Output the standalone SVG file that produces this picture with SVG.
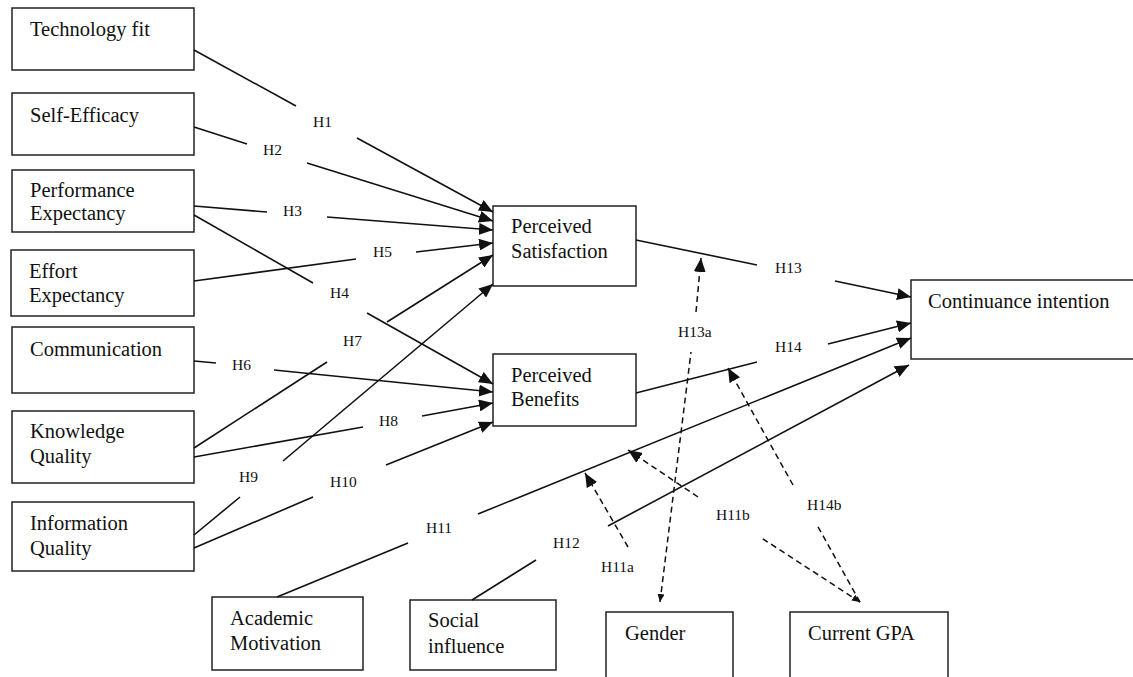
<svg xmlns="http://www.w3.org/2000/svg" width="1133" height="677" viewBox="0 0 1133 677">
<defs>
<style>
.box{fill:#fff;stroke:#222;stroke-width:1.5}
.t{font-family:"Liberation Serif","Times New Roman",serif;font-size:20.5px;fill:#111}
.lb{font-family:"Liberation Serif","Times New Roman",serif;font-size:15.5px;fill:#111}
.ln{fill:none;stroke:#111;stroke-width:1.6}
.dl{fill:none;stroke:#111;stroke-width:1.5;stroke-dasharray:6 4}
</style>
<marker id="ah" markerUnits="userSpaceOnUse" markerWidth="14" markerHeight="12" refX="14" refY="6" orient="auto">
<path d="M0,0 L14,6 L0,12 z" fill="#111"/>
</marker>
<marker id="ahs" markerUnits="userSpaceOnUse" markerWidth="8" markerHeight="7" refX="8" refY="3.5" orient="auto-start-reverse">
<path d="M0,0 L8,3.5 L0,7 z" fill="#111"/>
</marker>
</defs>
<rect width="1133" height="677" fill="#fff"/>

<g id="technology-fit"><rect class="box" x="12" y="8" width="182" height="62"/><text class="t" x="30" y="36">Technology fit</text></g>
<g id="self-efficacy"><rect class="box" x="12" y="93" width="182" height="62"/><text class="t" x="30" y="122">Self-Efficacy</text></g>
<g id="performance-expectancy"><rect class="box" x="12" y="170" width="182" height="62"/><text class="t" x="30" y="197">Performance</text><text class="t" x="30" y="220">Expectancy</text></g>
<g id="effort-expectancy"><rect class="box" x="11" y="250" width="183" height="66"/><text class="t" x="29" y="278">Effort</text><text class="t" x="29" y="302">Expectancy</text></g>
<g id="communication"><rect class="box" x="12" y="327" width="182" height="66"/><text class="t" x="30" y="356">Communication</text></g>
<g id="knowledge-quality"><rect class="box" x="12" y="411" width="182" height="72"/><text class="t" x="30" y="438">Knowledge</text><text class="t" x="30" y="463">Quality</text></g>
<g id="information-quality"><rect class="box" x="12" y="502" width="182" height="69"/><text class="t" x="30" y="530">Information</text><text class="t" x="30" y="555">Quality</text></g>
<g id="academic-motivation"><rect class="box" x="212" y="597" width="151" height="73"/><text class="t" x="230" y="625">Academic</text><text class="t" x="230" y="650">Motivation</text></g>
<g id="social-influence"><rect class="box" x="410" y="600" width="146" height="70"/><text class="t" x="428" y="627">Social</text><text class="t" x="428" y="653">influence</text></g>
<g id="gender"><rect class="box" x="606" y="612" width="127" height="70"/><text class="t" x="625" y="640">Gender</text></g>
<g id="current-gpa"><rect class="box" x="790" y="612" width="158" height="70"/><text class="t" x="808" y="640">Current GPA</text></g>
<g id="perceived-satisfaction"><rect class="box" x="493" y="206" width="143" height="80"/><text class="t" x="511" y="233">Perceived</text><text class="t" x="511" y="258">Satisfaction</text></g>
<g id="perceived-benefits"><rect class="box" x="493" y="354" width="143" height="72"/><text class="t" x="511" y="382">Perceived</text><text class="t" x="511" y="406">Benefits</text></g>
<g id="continuance-intention"><rect class="box" x="911" y="280" width="224" height="79"/><text class="t" x="928" y="308">Continuance intention</text></g>

<g id="connectors">
<line class="ln" x1="194" y1="50" x2="296" y2="106"/><line class="ln" x1="357" y1="138" x2="493" y2="212" marker-end="url(#ah)"/>
<text class="lb" x="313" y="127">H1</text>
<line class="ln" x1="194" y1="127" x2="247" y2="144"/><line class="ln" x1="307" y1="163" x2="493" y2="221" marker-end="url(#ah)"/>
<text class="lb" x="263" y="155">H2</text>
<line class="ln" x1="194" y1="206" x2="267" y2="212"/><line class="ln" x1="327" y1="217" x2="493" y2="230" marker-end="url(#ah)"/>
<text class="lb" x="283" y="216">H3</text>
<line class="ln" x1="194" y1="215" x2="313" y2="283"/><line class="ln" x1="367" y1="313" x2="493" y2="384" marker-end="url(#ah)"/>
<text class="lb" x="330" y="298">H4</text>
<line class="ln" x1="194" y1="281" x2="356" y2="259"/><line class="ln" x1="416" y1="252" x2="493" y2="243" marker-end="url(#ah)"/>
<text class="lb" x="373" y="257">H5</text>
<line class="ln" x1="194" y1="361" x2="216" y2="363"/><line class="ln" x1="274" y1="370" x2="493" y2="392" marker-end="url(#ah)"/>
<text class="lb" x="232" y="370">H6</text>
<line class="ln" x1="194" y1="448" x2="327" y2="362"/><line class="ln" x1="387" y1="322" x2="493" y2="255" marker-end="url(#ah)"/>
<text class="lb" x="343" y="346">H7</text>
<line class="ln" x1="194" y1="457" x2="363" y2="427"/><line class="ln" x1="422" y1="416" x2="493" y2="403" marker-end="url(#ah)"/>
<text class="lb" x="379" y="426">H8</text>
<line class="ln" x1="194" y1="535" x2="240" y2="497"/><line class="ln" x1="283" y1="461" x2="493" y2="284" marker-end="url(#ah)"/>
<text class="lb" x="239" y="482">H9</text>
<line class="ln" x1="194" y1="548" x2="313" y2="497"/><line class="ln" x1="386" y1="465" x2="493" y2="422" marker-end="url(#ah)"/>
<text class="lb" x="330" y="487">H10</text>
<line class="ln" x1="277" y1="597" x2="408" y2="543"/><line class="ln" x1="478" y1="514" x2="911" y2="338" marker-end="url(#ah)"/>
<text class="lb" x="426" y="533">H11</text>
<line class="ln" x1="472" y1="600" x2="536" y2="560"/><line class="ln" x1="608" y1="526" x2="909" y2="365" marker-end="url(#ah)"/>
<text class="lb" x="553" y="548">H12</text>
<line class="ln" x1="636" y1="240" x2="757" y2="265"/><line class="ln" x1="835" y1="281" x2="911" y2="297" marker-end="url(#ah)"/>
<text class="lb" x="775" y="273">H13</text>
<line class="ln" x1="636" y1="393" x2="757" y2="362"/><line class="ln" x1="828" y1="344" x2="911" y2="323" marker-end="url(#ah)"/>
<text class="lb" x="775" y="352">H14</text>

<line class="dl" x1="660" y1="602" x2="691" y2="352" marker-start="url(#ahs)"/><line class="dl" x1="696" y1="312" x2="701" y2="258" marker-end="url(#ah)"/>
<text class="lb" x="678" y="337">H13a</text>
<line class="dl" x1="628" y1="547" x2="585" y2="473" marker-end="url(#ah)"/>
<text class="lb" x="601" y="572">H11a</text>
<line class="dl" x1="860" y1="602" x2="760" y2="537" marker-start="url(#ahs)"/><line class="dl" x1="698" y1="497" x2="628" y2="450" marker-end="url(#ah)"/>
<text class="lb" x="716" y="520">H11b</text>
<line class="dl" x1="860" y1="602" x2="817" y2="525"/><line class="dl" x1="793" y1="485" x2="728" y2="368" marker-end="url(#ah)"/>
<text class="lb" x="807" y="510">H14b</text>
</g>
</svg>
